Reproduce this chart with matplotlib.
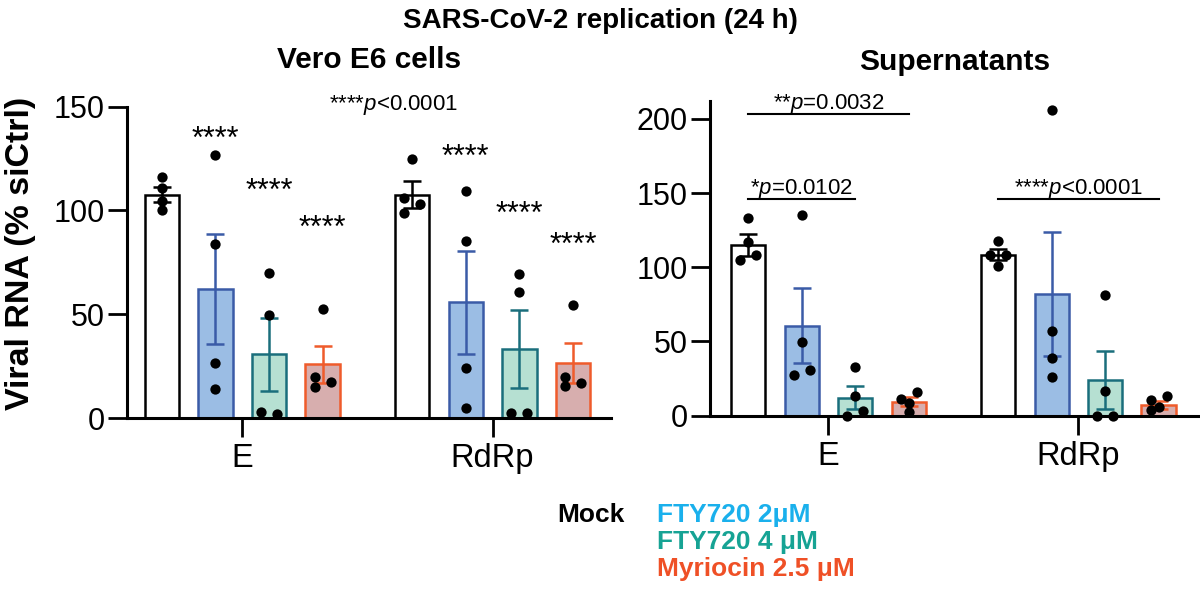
"""SARS-CoV-2 replication (24 h): viral RNA in Vero E6 cells and supernatants."""
import matplotlib

matplotlib.use("Agg")
import matplotlib.pyplot as plt
import numpy as np

plt.rcParams["font.family"] = ["Liberation Sans", "DejaVu Sans"]
plt.rcParams["mathtext.fontset"] = "custom"
plt.rcParams["mathtext.rm"] = "Liberation Sans"
plt.rcParams["mathtext.it"] = "Liberation Sans:italic"

GENES = ["E", "RdRp"]
TREATMENTS = ["Mock", "FTY720 2\u03bcM", "FTY720 4 \u03bcM", "Myriocin 2.5 \u03bcM"]

# bar heights (mean) and SEM, per treatment, per gene (E, RdRp)
CELLS_MEAN = [[107.7, 107.7], [62.4, 55.7], [30.7, 33.4], [25.9, 26.5]]
CELLS_SEM = [[3.5, 6.3], [26.5, 25.0], [17.5, 18.7], [9.0, 9.6]]
CELLS_DOTS = [
    [[116, 111, 104.5, 100], [124.7, 106, 102.9, 98.9]],
    [[126.8, 84, 26.5, 13.9], [109.3, 85.3, 24.1, 4.6]],
    [[70, 49.4, 2.7, 2], [69.3, 60.8, 2.2, 2.2]],
    [[52.5, 19.8, 17.5, 15], [54.5, 19.8, 17, 15.5]],
]
SUP_MEAN = [[115.1, 108.4], [60.5, 81.8], [12.2, 24.1], [9.5, 7.2]]
SUP_SEM = [[7.4, 3.8], [25.3, 41.8], [7.8, 19.7], [2.9, 2.9]]
SUP_DOTS = [
    [[133.1, 116.7, 108.4, 105], [117.4, 108.4, 108.4, 101]],
    [[135.3, 49.9, 30.8, 27.4], [205.7, 57.1, 39.1, 26.3]],
    [[33, 13.3, 3.4, 0], [81.4, 16.7, 0, 0]],
    [[15.8, 11, 8.3, 2.7], [13.3, 10.6, 6.1, 3.8]],
]

# significance stars above treated bars (cells panel), per treatment, per gene
CELLS_STARS = ["****", "****", "****"]
CELLS_STAR_Y = [[130, 121.5], [105, 94], [87.5, 79]]
CELLS_NOTE = r"****$p$<0.0001"

# supernatant comparisons: (gene, from treatment, to treatment, line y, label)
SUP_BRACKET_GENE = [0, 0, 1]
SUP_BRACKET_FROM = [0, 0, 0]
SUP_BRACKET_TO = [3, 2, 3]
SUP_BRACKET_Y = [202.9, 145.7, 145.7]
SUP_BRACKET_LABEL = [r"**$p$=0.0032", r"*$p$=0.0102", r"****$p$<0.0001"]

FACE = ["white", "#9bbde4", "#b6e0d2", "#d7aeae"]
EDGE = ["black", "#3a5ba7", "#1a6e7c", "#ef5b2b"]
LEGEND_COLORS = ["black", "#1ab0ec", "#16a394", "#ef5026"]

# horizontal jitter of the points inside each bar (in bar-position units)
J = 0.032
CELLS_JITTER = [
    [[0, 0, 0, 0], [0, -J, J, -J]],
    [[0, 0, 0, 0], [0, 0, 0, 0]],
    [[0, 0, -J, J], [0, 0, -J, J]],
    [[0, -J, J, -J], [0, -J, J, -J]],
]
SUP_JITTER = [
    [[0, 0, J, -J], [0, -J, J, 0]],
    [[0, 0, J, -J], [0, 0, 0, 0]],
    [[0, 0, J, -J], [0, 0, -J, J]],
    [[J, -J, 0, 0], [J, -J, 0, -J]],
]

BAR_W = 0.137
OFFSETS = np.array([-1.5, -0.5, 0.5, 1.5]) * 0.214
LW = 1.8


def draw_panel(ax, means, sems, dots, jitter):
    group_x = np.arange(len(GENES))
    for t in range(len(TREATMENTS)):
        xs = group_x + OFFSETS[t]
        ax.bar(xs, means[t], BAR_W, color=FACE[t], edgecolor=EDGE[t],
               linewidth=LW, zorder=2)
        ax.errorbar(xs, means[t], yerr=sems[t], fmt="none", ecolor=EDGE[t],
                    elinewidth=LW, capsize=6.5, capthick=LW, zorder=3)
        for g in range(len(GENES)):
            px = xs[g] + np.array(jitter[t][g])
            ax.scatter(px, dots[t][g], s=55, color="black", zorder=4,
                       clip_on=False, linewidths=0)
    for side in ("top", "right"):
        ax.spines[side].set_visible(False)
    for side in ("left", "bottom"):
        ax.spines[side].set_linewidth(2.2)
    ax.set_xticks(group_x)
    ax.set_xticklabels(GENES, fontsize=23.5)
    ax.tick_params(axis="x", length=14, width=2, pad=4)
    ax.tick_params(axis="y", length=14, width=2, labelsize=22, pad=2)


fig = plt.figure(figsize=(12, 5.93), dpi=100)

ax1 = fig.add_axes([0.1058, 0.2951, 0.509 - 0.1058, 0.820 - 0.2951])
draw_panel(ax1, CELLS_MEAN, CELLS_SEM, CELLS_DOTS, CELLS_JITTER)
ax1.set_xlim(-0.46, 1.472)
ax1.set_ylim(0, 150)
ax1.set_yticks([0, 50, 100, 150])
for t in range(1, len(TREATMENTS)):
    for g in range(len(GENES)):
        ax1.text(g + OFFSETS[t], CELLS_STAR_Y[t - 1][g], CELLS_STARS[t - 1],
                 ha="center", va="baseline", fontsize=22)
ax1.text(0.605, 148.4, CELLS_NOTE, ha="center", va="baseline", fontsize=16)
ax1.set_title("Vero E6 cells", fontsize=21.5, fontweight="bold", pad=28)

ax2 = fig.add_axes([0.5917, 0.299, 0.999 - 0.5917, 0.8297 - 0.299])
draw_panel(ax2, SUP_MEAN, SUP_SEM, SUP_DOTS, SUP_JITTER)
ax2.set_xlim(-0.474, 1.482)
ax2.set_ylim(0, 212)
ax2.set_yticks([0, 50, 100, 150, 200])
for k, label in enumerate(SUP_BRACKET_LABEL):
    g = SUP_BRACKET_GENE[k]
    x0 = g + OFFSETS[SUP_BRACKET_FROM[k]]
    x1 = g + OFFSETS[SUP_BRACKET_TO[k]]
    y = SUP_BRACKET_Y[k]
    ax2.plot([x0, x1], [y, y], color="black", lw=1.5, clip_on=False)
    ax2.text((x0 + x1) / 2, y + 3.5, label, ha="center", va="baseline",
             fontsize=16)
ax2.set_title("Supernatants", fontsize=21.5, fontweight="bold", pad=22)

fig.text(0.5, 0.953, "SARS-CoV-2 replication (24 h)", ha="center",
         va="baseline", fontsize=20, fontweight="bold")
fig.text(0.017, 0.573, "Viral RNA (% siCtrl)", rotation=90, ha="center",
         va="center", fontsize=24.5, fontweight="bold")

# colour-coded legend below the panels
fig.text(557 / 1200, 1 - 515 / 593, TREATMENTS[0], color=LEGEND_COLORS[0],
         ha="left", va="center", fontsize=19, fontweight="bold")
for i in range(1, len(TREATMENTS)):
    fig.text(657 / 1200, 1 - (515 + 27 * (i - 1)) / 593, TREATMENTS[i],
             color=LEGEND_COLORS[i], ha="left", va="center", fontsize=19,
             fontweight="bold")

fig.savefig("out.png", dpi=100)
